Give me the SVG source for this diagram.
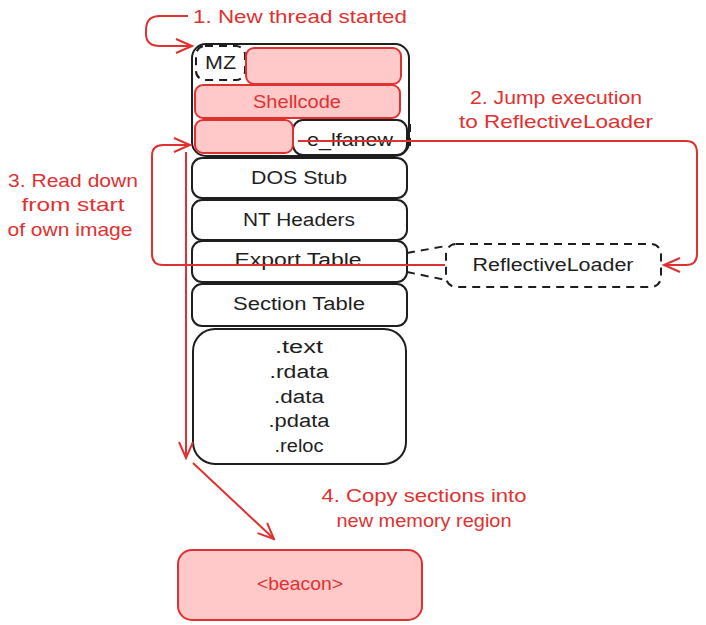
<svg xmlns="http://www.w3.org/2000/svg" width="706" height="625" viewBox="0 0 706 625">
<defs>
<style>
.box{fill:#ffffff;stroke:#1e1e1e;stroke-width:2}
.dash{fill:#ffffff;stroke:#1e1e1e;stroke-width:2;stroke-dasharray:8 6}
.red{fill:#ffc9c9;stroke:#e03131;stroke-width:2}
.t{font-family:"Liberation Sans",Arial,sans-serif;font-size:18px;fill:#1e1e1e;text-anchor:middle}
.rt{font-family:"Liberation Sans",Arial,sans-serif;font-size:19px;fill:#e03131;text-anchor:middle}
.conn{fill:none;stroke:#e03131;stroke-width:2}
.dl{fill:none;stroke:#1e1e1e;stroke-width:2;stroke-dasharray:8 6}
</style>
<marker id="ah" viewBox="0 0 20 20" refX="18" refY="10" markerWidth="20" markerHeight="20" markerUnits="userSpaceOnUse" orient="auto">
<path d="M2 3 L18 10 L2 17" fill="none" stroke="#e03131" stroke-width="2"/>
</marker>
</defs>
<rect width="706" height="625" fill="#ffffff"/>

<g id="header">
<rect class="box" x="192" y="44" width="217" height="112" rx="14"/>
</g>
<g id="mz">
<rect class="dash" x="196" y="46" width="49" height="34" rx="9"/>
<text class="t" x="220.5" y="69" textLength="31" lengthAdjust="spacingAndGlyphs">MZ</text>
</g>
<g id="red-top">
<rect class="red" x="246" y="48" width="155" height="36" rx="8"/>
</g>
<g id="shellcode">
<rect class="red" x="195" y="85" width="205" height="33" rx="8"/>
<text class="rt" x="297" y="108" textLength="88" lengthAdjust="spacingAndGlyphs">Shellcode</text>
</g>
<g id="e_lfanew">
<rect class="box" x="293" y="120" width="114" height="35" rx="10"/>
<path class="dl" d="M410 124 L410 152"/>
<text class="t" x="350" y="146" textLength="86" lengthAdjust="spacingAndGlyphs">e_lfanew</text>
</g>
<g id="red-bottom">
<rect class="red" x="195" y="120" width="98" height="33" rx="8"/>
</g>
<g id="dos-stub">
<rect class="box" x="192" y="158" width="215" height="40" rx="10"/>
<text class="t" x="299" y="184" textLength="96" lengthAdjust="spacingAndGlyphs">DOS Stub</text>
</g>
<g id="nt-headers">
<rect class="box" x="192" y="200" width="215" height="40" rx="10"/>
<text class="t" x="299" y="226" textLength="112" lengthAdjust="spacingAndGlyphs">NT Headers</text>
</g>
<g id="export-table">
<rect class="box" x="192" y="241" width="215" height="41" rx="10"/>
<text class="t" x="298" y="266" textLength="127" lengthAdjust="spacingAndGlyphs">Export Table</text>
</g>
<g id="section-table">
<rect class="box" x="192" y="284" width="215" height="42" rx="10"/>
<text class="t" x="299" y="310" textLength="132" lengthAdjust="spacingAndGlyphs">Section Table</text>
</g>
<g id="sections">
<rect class="box" x="193" y="329" width="213" height="135" rx="22"/>
<text class="t" x="299" y="353" textLength="48" lengthAdjust="spacingAndGlyphs">.text</text>
<text class="t" x="299" y="378" textLength="59" lengthAdjust="spacingAndGlyphs">.rdata</text>
<text class="t" x="299" y="403" textLength="50" lengthAdjust="spacingAndGlyphs">.data</text>
<text class="t" x="299" y="427" textLength="61" lengthAdjust="spacingAndGlyphs">.pdata</text>
<text class="t" x="299" y="452" textLength="49" lengthAdjust="spacingAndGlyphs">.reloc</text>
</g>
<g id="reflective-loader">
<rect class="dash" x="446" y="244" width="215" height="43" rx="10"/>
<text class="t" x="553" y="271" textLength="161" lengthAdjust="spacingAndGlyphs">ReflectiveLoader</text>
</g>
<g id="beacon">
<rect class="red" x="178" y="550" width="244" height="70" rx="14"/>
<text class="rt" x="300" y="590" textLength="86" lengthAdjust="spacingAndGlyphs">&lt;beacon&gt;</text>
</g>

<g id="labels">
<text class="rt" x="300" y="23" textLength="214" lengthAdjust="spacingAndGlyphs">1. New thread started</text>
<text class="rt" x="556" y="104" textLength="172" lengthAdjust="spacingAndGlyphs">2. Jump execution</text>
<text class="rt" x="556" y="128" textLength="194" lengthAdjust="spacingAndGlyphs">to ReflectiveLoader</text>
<text class="rt" x="73" y="187" textLength="130" lengthAdjust="spacingAndGlyphs">3. Read down</text>
<text class="rt" x="73" y="211" textLength="103" lengthAdjust="spacingAndGlyphs">from start</text>
<text class="rt" x="70" y="236" textLength="125" lengthAdjust="spacingAndGlyphs">of own image</text>
<text class="rt" x="424" y="502" textLength="205" lengthAdjust="spacingAndGlyphs">4. Copy sections into</text>
<text class="rt" x="424" y="527" textLength="175" lengthAdjust="spacingAndGlyphs">new memory region</text>
</g>

<g id="connectors">
<path class="dl" d="M407 253 L446 246"/>
<path class="dl" d="M407 272 L446 280"/>
<path class="conn" marker-end="url(#ah)" d="M188 16 L160 16 Q146 16 146 30 L146 34 Q146 46 160 46 L192 46"/>
<path class="conn" marker-end="url(#ah)" d="M298 141 L686 141 Q697 141 697 153 L697 254 Q697 265 686 265 L664 265"/>
<path class="conn" marker-end="url(#ah)" d="M445 265 L163 265 Q152 265 152 254 L152 156 Q152 145 163 145 L190 145"/>
<path class="conn" marker-end="url(#ah)" d="M186 152 L186 458"/>
<path class="conn" marker-end="url(#ah)" d="M193 463 L274 539"/>
</g>
</svg>
